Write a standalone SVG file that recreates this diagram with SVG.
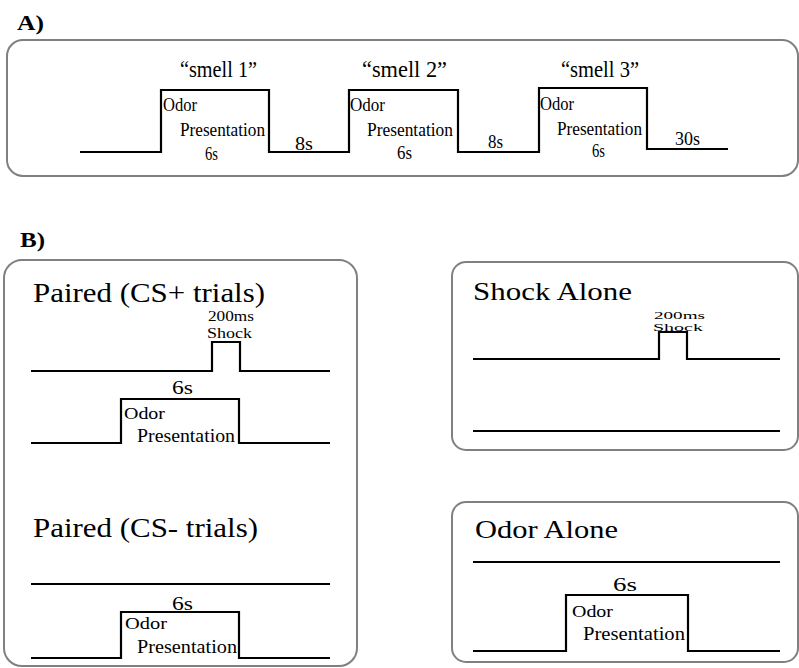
<svg xmlns="http://www.w3.org/2000/svg" width="799" height="668" viewBox="0 0 799 668">
<style>
.box{fill:none;stroke:#808080;stroke-width:2}
.w{fill:none;stroke:#000;stroke-width:2.2;stroke-linejoin:miter}
.hd{font-weight:bold;font-size:22px}
.big{font-size:27px}
.sm{font-size:24px}
.od{font-size:18px}
.pr{font-size:19px}
</style>
<rect width="799" height="668" fill="#fff"/>
<g font-family="Liberation Serif, Times New Roman, serif" fill="#000">
<g id="panelA">
<text class="hd" x="17" y="30" textLength="27" lengthAdjust="spacingAndGlyphs">A)</text>
<rect class="box" x="7" y="40" width="791" height="136" rx="16"/>
</g>
<g id="waveA">
<path class="w" d="M80 152 H161 V90 H269 V152 H349 V90 H458 V152 H539 V88 H647 V149 H728"/>
</g>
<g id="labelsA">
<text class="sm" x="180" y="77" textLength="77" lengthAdjust="spacingAndGlyphs">“smell 1”</text>
<text class="sm" x="362" y="77" textLength="85" lengthAdjust="spacingAndGlyphs">“smell 2”</text>
<text class="sm" x="561" y="77" textLength="78" lengthAdjust="spacingAndGlyphs">“smell 3”</text>
<text class="od" x="163" y="111" textLength="34" lengthAdjust="spacingAndGlyphs">Odor</text>
<text class="od" x="350" y="111" textLength="35" lengthAdjust="spacingAndGlyphs">Odor</text>
<text class="od" x="540" y="110" textLength="34" lengthAdjust="spacingAndGlyphs">Odor</text>
<text class="pr" x="180" y="136" textLength="85" lengthAdjust="spacingAndGlyphs">Presentation</text>
<text class="pr" x="367" y="136" textLength="86" lengthAdjust="spacingAndGlyphs">Presentation</text>
<text class="pr" x="557" y="135" textLength="85" lengthAdjust="spacingAndGlyphs">Presentation</text>
<text class="pr" x="205" y="160" textLength="13" lengthAdjust="spacingAndGlyphs">6s</text>
<text class="pr" x="397" y="159" textLength="15" lengthAdjust="spacingAndGlyphs">6s</text>
<text class="pr" x="592" y="157" textLength="13" lengthAdjust="spacingAndGlyphs">6s</text>
<text class="pr" x="295" y="150" textLength="18" lengthAdjust="spacingAndGlyphs">8s</text>
<text class="pr" x="488" y="148" textLength="15" lengthAdjust="spacingAndGlyphs">8s</text>
<text class="pr" x="675" y="145" textLength="25" lengthAdjust="spacingAndGlyphs">30s</text>
</g>
<text class="hd" x="20" y="247" textLength="25" lengthAdjust="spacingAndGlyphs">B)</text>
<g id="paired">
<rect class="box" x="4" y="260" width="353" height="406" rx="18"/>
<text class="big" x="33" y="302" textLength="232" lengthAdjust="spacingAndGlyphs">Paired (CS+ trials)</text>
<text x="208" y="321" font-size="14" textLength="46" lengthAdjust="spacingAndGlyphs">200ms</text>
<text x="207" y="338" font-size="15" textLength="45" lengthAdjust="spacingAndGlyphs">Shock</text>
<path class="w" d="M31 371 H212 V342 H240 V371 H330"/>
<text x="172" y="394" font-size="18" textLength="21" lengthAdjust="spacingAndGlyphs">6s</text>
<path class="w" d="M31 443 H121 V399 H239 V443 H330"/>
<text x="124" y="419" font-size="17" textLength="41" lengthAdjust="spacingAndGlyphs">Odor</text>
<text x="137" y="442" font-size="19.5" textLength="98" lengthAdjust="spacingAndGlyphs">Presentation</text>
<text class="big" x="33" y="537" textLength="225" lengthAdjust="spacingAndGlyphs">Paired (CS- trials)</text>
<path class="w" d="M31 584 H330"/>
<text x="172" y="610" font-size="18" textLength="21" lengthAdjust="spacingAndGlyphs">6s</text>
<path class="w" d="M31 658 H121 V612 H239 V658 H330"/>
<text x="125" y="629" font-size="17" textLength="42" lengthAdjust="spacingAndGlyphs">Odor</text>
<text x="137" y="653" font-size="19.5" textLength="100" lengthAdjust="spacingAndGlyphs">Presentation</text>
</g>
<g id="shockAlone">
<rect class="box" x="452" y="262" width="346" height="188" rx="14"/>
<text x="473" y="300" font-size="25" textLength="159" lengthAdjust="spacingAndGlyphs">Shock Alone</text>
<text x="654" y="319" font-size="11" textLength="51" lengthAdjust="spacingAndGlyphs">200ms</text>
<text x="653" y="331" font-size="11" textLength="50" lengthAdjust="spacingAndGlyphs">Shock</text>
<path class="w" d="M473 359 H659 V332 H687 V359 H780"/>
<path class="w" d="M473 431 H780"/>
</g>
<g id="odorAlone">
<rect class="box" x="452" y="502" width="346" height="160" rx="14"/>
<text x="475" y="538" font-size="25" textLength="143" lengthAdjust="spacingAndGlyphs">Odor Alone</text>
<path class="w" d="M473 562 H780"/>
<text x="613" y="591" font-size="19" textLength="24" lengthAdjust="spacingAndGlyphs">6s</text>
<path class="w" d="M473 651 H566 V595 H688 V651 H780"/>
<text x="572" y="617" font-size="17" textLength="41" lengthAdjust="spacingAndGlyphs">Odor</text>
<text x="583" y="640" font-size="19.5" textLength="102" lengthAdjust="spacingAndGlyphs">Presentation</text>
</g>
</g>
</svg>
